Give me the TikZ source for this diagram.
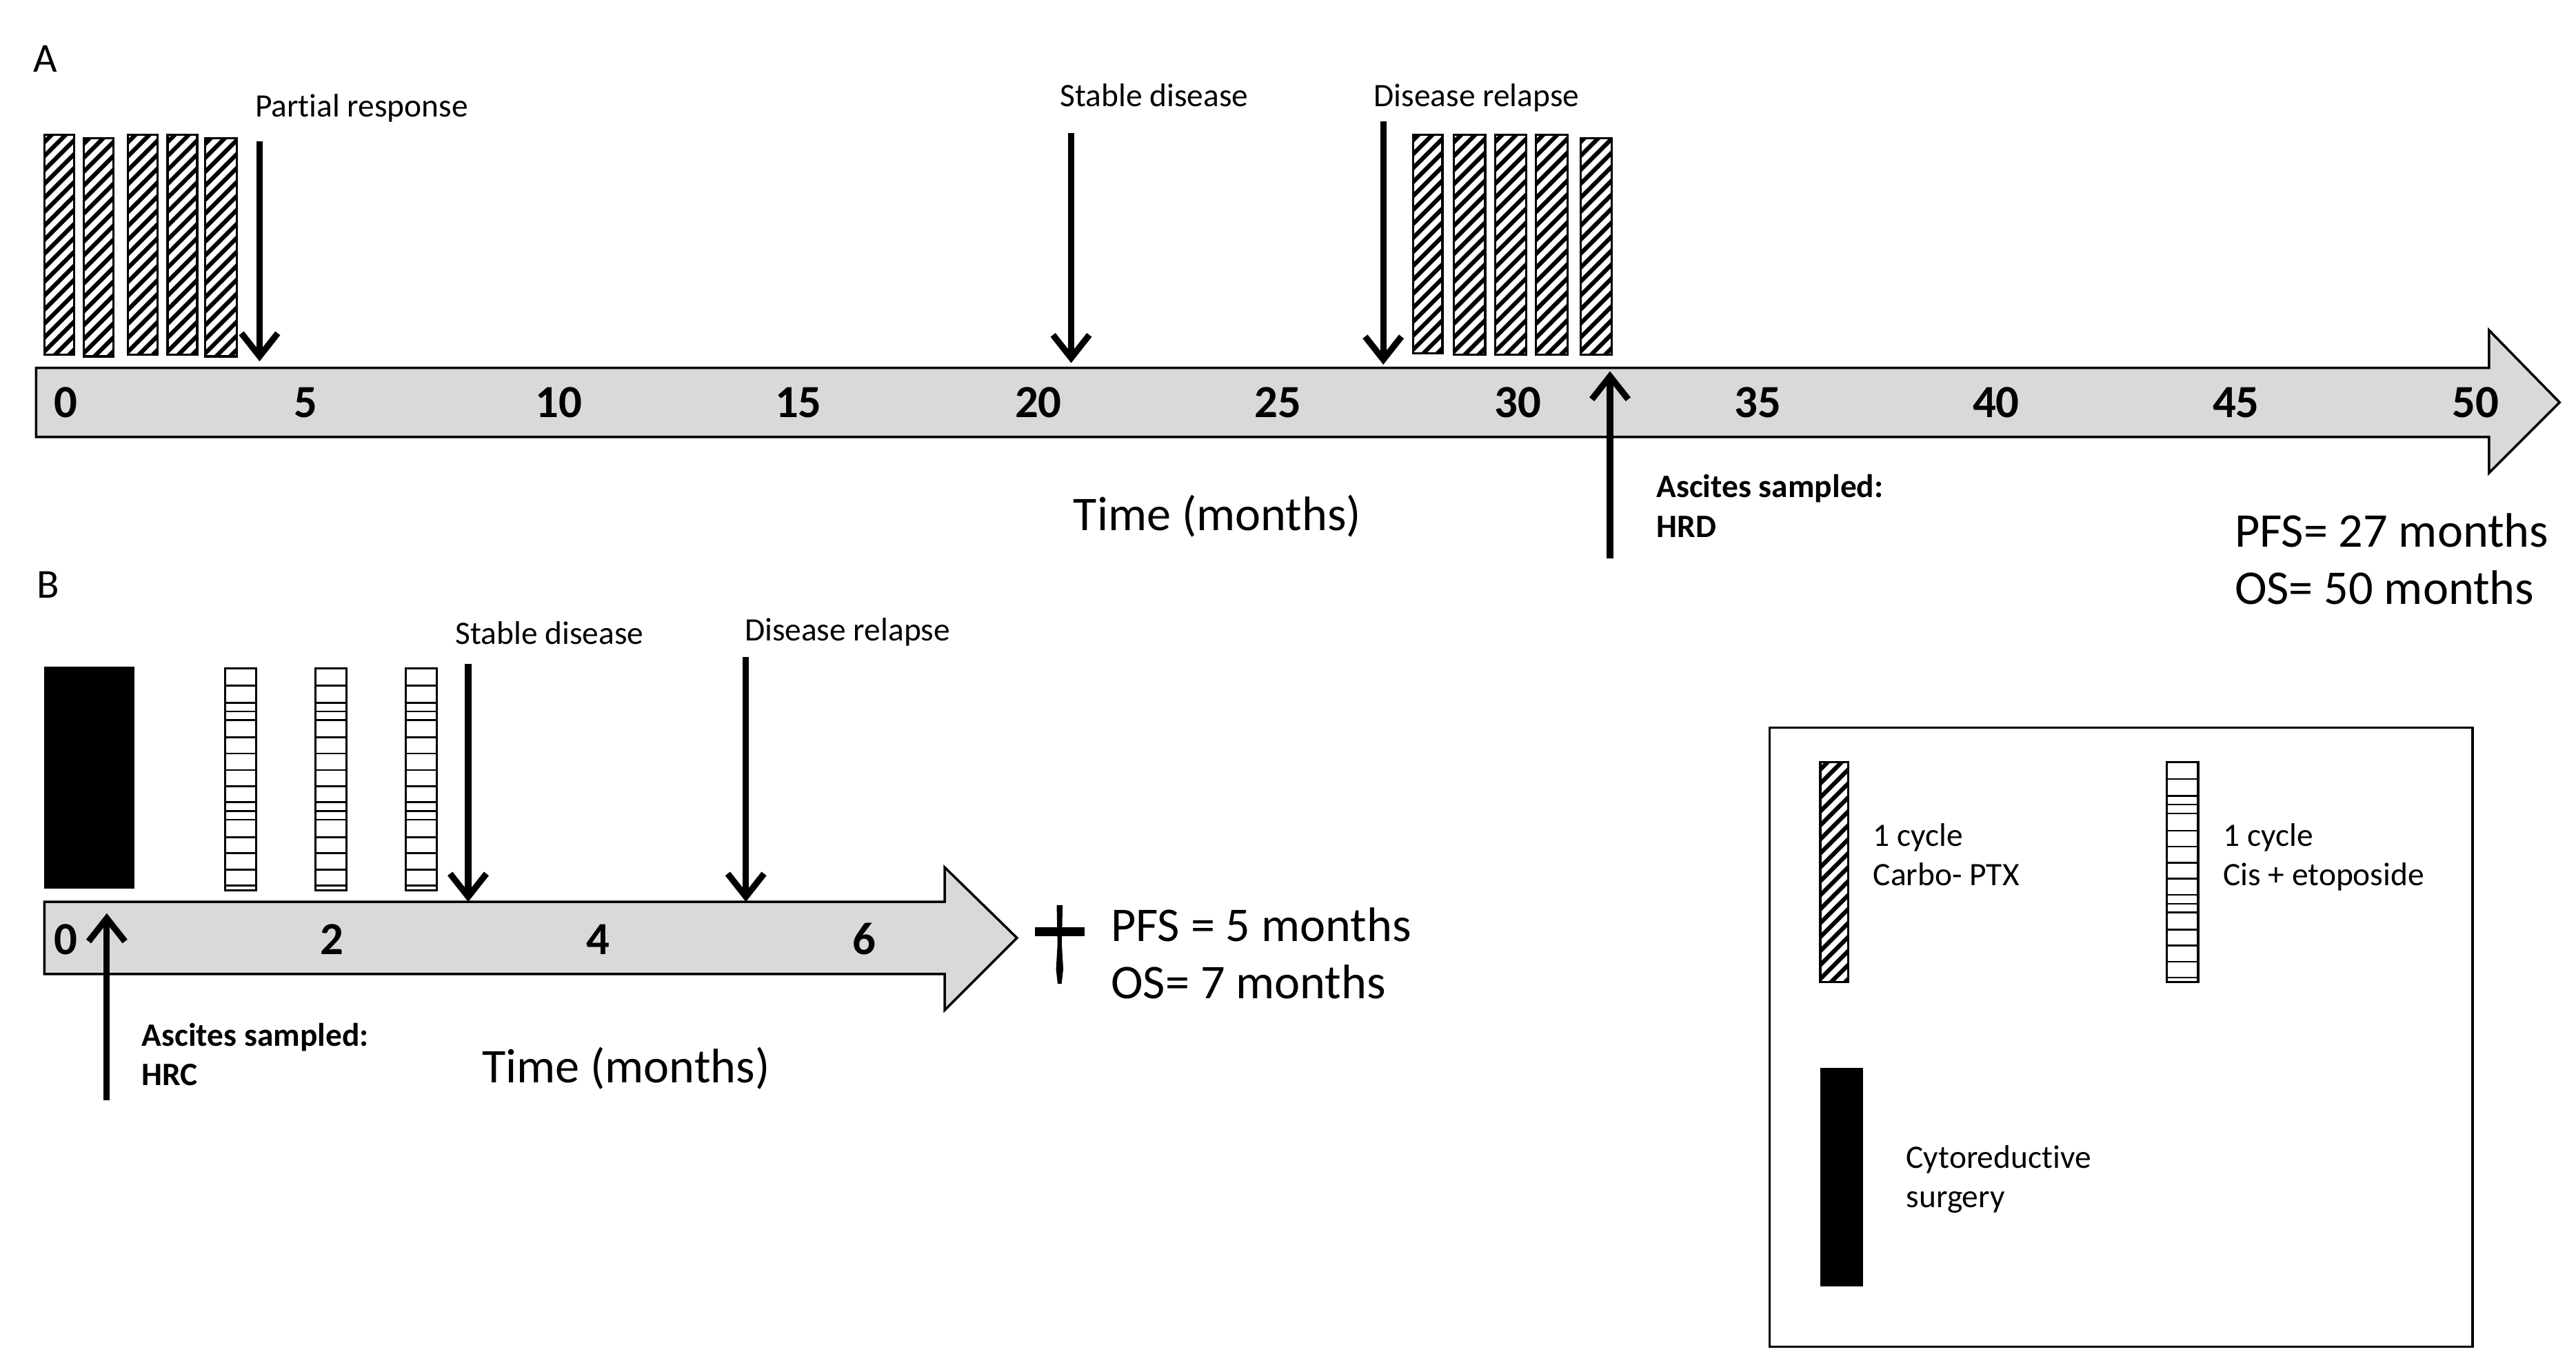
\documentclass[tikz,border=0pt]{standalone}
\usepackage{fontspec}
\setmainfont{Carlito}[Ligatures=NoCommon]
\usetikzlibrary{arrows.meta}
\definecolor{tlgray}{HTML}{D9D9D9}
\tikzset{
  txt/.style={inner sep=0pt, anchor=base west, font=\fontsize{13.5}{16}\selectfont},
  asc/.style={inner sep=0pt, anchor=base west, font=\bfseries\fontsize{13.5}{16}\selectfont},
  num/.style={inner sep=0pt, anchor=base, font=\bfseries\fontsize{19}{22}\selectfont},
  big/.style={inner sep=0pt, font=\fontsize{20}{24}\selectfont},
  panel/.style={inner sep=0pt, anchor=base west, font=\fontsize{17}{20}\selectfont},
  evt/.style={line width=2.6pt, -{Straight Barb[length=9.5pt,width=15pt]}},
  tline/.style={fill=tlgray, draw=black, line width=1pt, line join=miter},
  barline/.style={draw=black, line width=0.9pt},
  stripe/.style={draw=black, line width=0.75pt},
  hatch/.style={line width=1.75pt}
}
\newcommand\hatchbar[4]{%
  \begin{scope}
    \clip (#1,#2) rectangle (#3,#4);
    \foreach \k in {0,...,22}{
      \draw[hatch] (#1-6,{#4+38-\k*8.5}) -- ++(40,-40);
    }
  \end{scope}
  \draw[barline] (#1,#2) rectangle (#3,#4);
}
\newcommand\stripebar[4]{%
  \draw[barline] (#1,#2) rectangle (#3,#4);
  \foreach \f in {0.077,0.154,0.193,0.233,0.311,0.383,0.458,0.530,0.603,0.643,0.682,0.760,0.833,0.907,0.979}{
    \draw[stripe] (#1,{#2+\f*(#4-#2)}) -- (#3,{#2+\f*(#4-#2)});
  }
}
\begin{document}
\begin{tikzpicture}[x=0.023827cm, y=-0.023827cm]
\useasboundingbox[fill=white] (0,0) rectangle (1568,831);

% ---------------- Panel A ----------------
\node[panel] (labA) at (20,44) {A};
\draw[tline] (22,224) -- (1515,224) -- (1515,201) -- (1558,245) -- (1515,288) -- (1515,266) -- (22,266) -- cycle;
\foreach \m/\xx in {0/40,5/186,10/340,15/486,20/632,25/778,30/924,35/1070,40/1215,45/1361,50/1507}{
  \node[num] (a\m) at (\xx,254) {\m};
}
\hatchbar{27}{82}{45}{216}
\hatchbar{51}{84}{69}{217}
\hatchbar{78}{82}{96}{216}
\hatchbar{102}{82}{120}{216}
\hatchbar{125}{84}{144}{217}

\hatchbar{860}{82}{878}{215}
\hatchbar{885}{82}{904}{216}
\hatchbar{910}{82}{929}{216}
\hatchbar{935}{82}{954}{216}
\hatchbar{962}{84}{981}{216}

\coordinate (prS) at (158,86);  \coordinate (prE) at (158,220);
\coordinate (sdS) at (652,81);  \coordinate (sdE) at (652,221);
\coordinate (drS) at (842,74);  \coordinate (drE) at (842,222);
\coordinate (asS) at (980,340); \coordinate (asE) at (980,226);
\draw[evt] (prS) -- (prE);
\draw[evt] (sdS) -- (sdE);
\draw[evt] (drS) -- (drE);
\draw[evt] (asS) -- (asE);

\node[txt] (tpr) at (155,71) {Partial response};
\node[txt] (tsd) at (645,65) {Stable disease};
\node[txt] (tdr) at (836,65) {Disease relapse};
\node[asc] (tas1) at (1008,303) {Ascites sampled:};
\node[asc] (tas2) at (1008,327) {HRD};
\node[big, anchor=base] (timeA) at (741,323) {Time (months)};
\node[big, anchor=base west] (pfsA) at (1360,333) {PFS= 27 months};
\node[big, anchor=base west] (osA) at (1360,368) {OS= 50 months};

% ---------------- Panel B ----------------
\node[panel] (labB) at (22,364) {B};
\draw[tline] (27,549) -- (575,549) -- (575,528) -- (619,571) -- (575,615) -- (575,593) -- (27,593) -- cycle;
\foreach \m/\xx in {0/40,2/202,4/364,6/526}{
  \node[num] (b\m) at (\xx,581) {\m};
}
\fill[black] (27,406) rectangle (82,541);
\stripebar{137}{407}{156}{542}
\stripebar{192}{407}{211}{542}
\stripebar{247}{407}{266}{542}

\coordinate (bsdS) at (285,404); \coordinate (bsdE) at (285,549);
\coordinate (bdrS) at (454,400); \coordinate (bdrE) at (454,549);
\coordinate (basS) at (65,670);  \coordinate (basE) at (65,556);
\draw[evt] (bsdS) -- (bsdE);
\draw[evt] (bdrS) -- (bdrE);
\draw[evt] (basS) -- (basE);

\node[txt] (tbsd) at (277,392) {Stable disease};
\node[txt] (tbdr) at (453,390) {Disease relapse};
\node[asc] (tbas1) at (86,637) {Ascites sampled:};
\node[asc] (tbas2) at (86,661) {HRC};
\node[big, anchor=base] (timeB) at (381,659) {Time (months)};

% cross
\fill[black] (643.2,551) -- (646.8,551) -- (646.3,575) -- (647.2,590) -- (646.2,599) -- (643.8,599) -- (642.8,590) -- (643.7,575) -- cycle;
\fill[black] (630,564.6) rectangle (660,569.8);
\node[big, anchor=base west] (pfsB) at (676,573) {PFS = 5 months};
\node[big, anchor=base west] (osB) at (676,608) {OS= 7 months};

% ---------------- Legend ----------------
\draw[black, line width=0.9pt] (1077,443) rectangle (1505,820);
\hatchbar{1108}{464}{1125}{598}
\node[txt] (l1a) at (1140,515) {1 cycle};
\node[txt] (l1b) at (1140,539) {Carbo- PTX};
\stripebar{1319}{464}{1338}{598}
\node[txt] (l2a) at (1353,515) {1 cycle};
\node[txt] (l2b) at (1353,539) {Cis + etoposide};
\fill[black] (1108,650) rectangle (1134,783);
\node[txt] (l3a) at (1160,711) {Cytoreductive};
\node[txt] (l3b) at (1160,735) {surgery};
\end{tikzpicture}
\end{document}
